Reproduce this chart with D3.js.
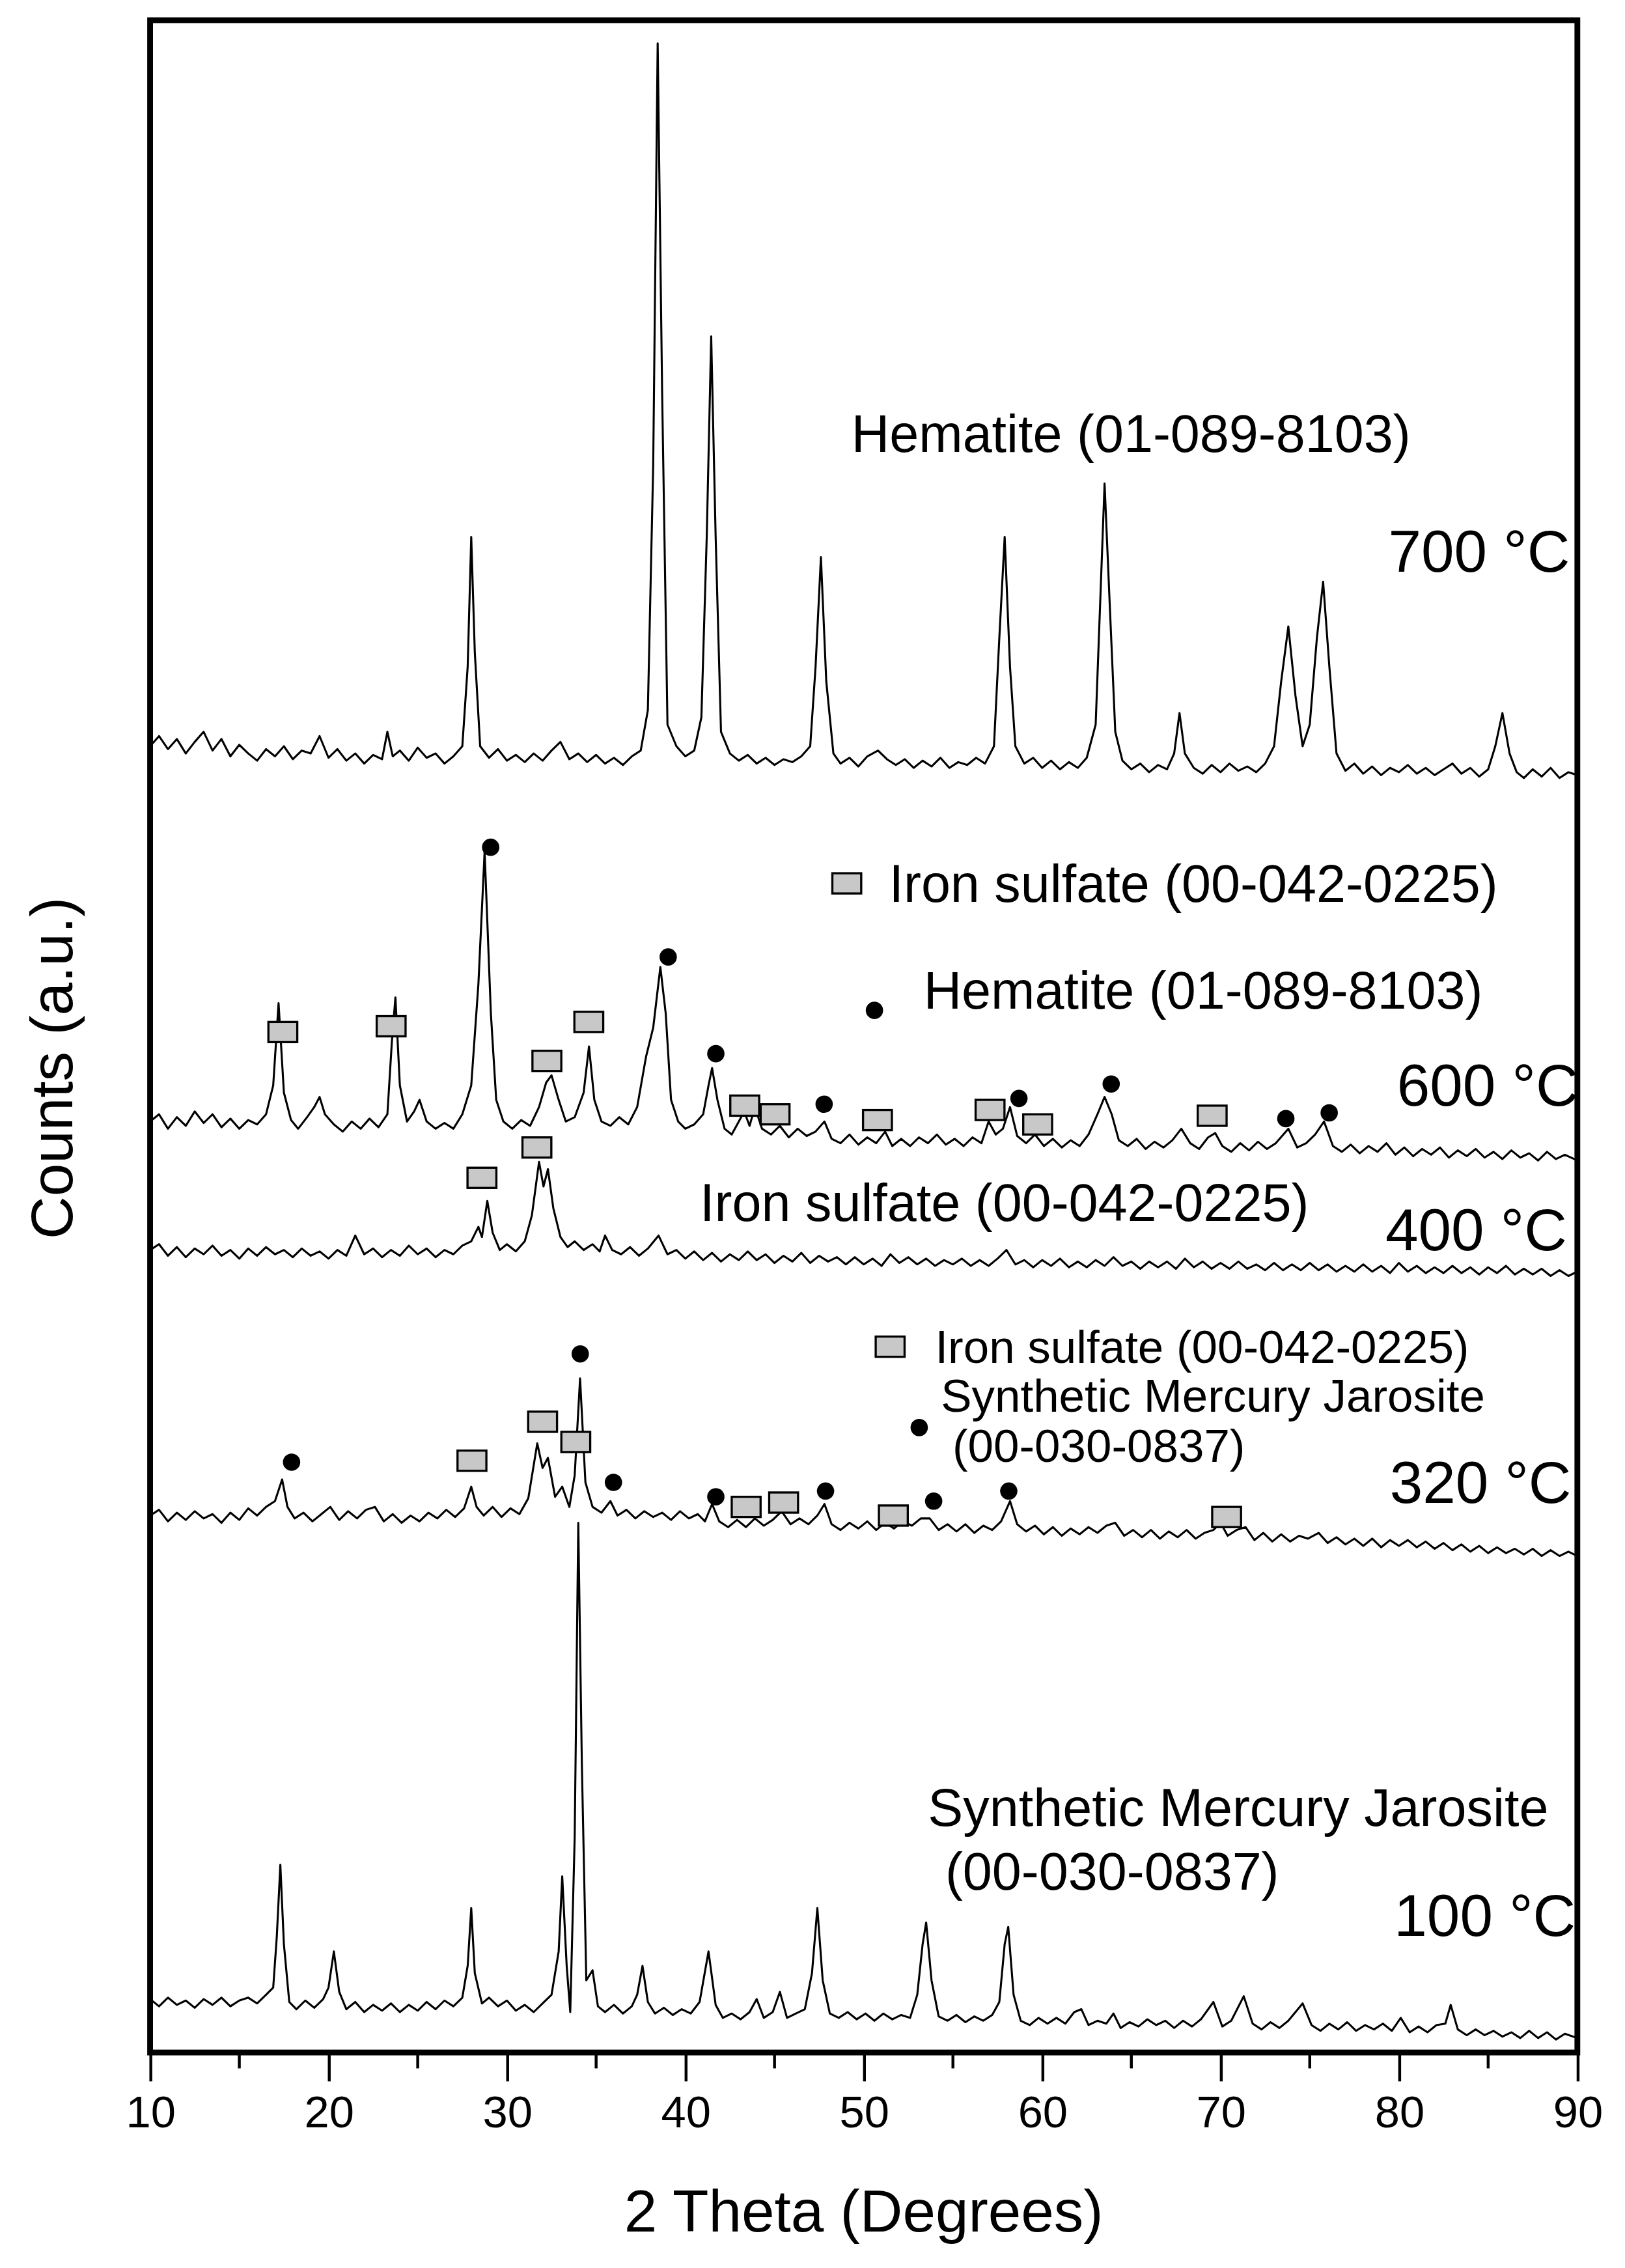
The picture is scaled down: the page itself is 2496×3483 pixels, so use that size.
<!DOCTYPE html>
<html><head><meta charset="utf-8">
<script src="https://cdn.jsdelivr.net/npm/d3@7"></script>
<style>body{margin:0;background:#fff}svg{display:block}text{font-family:"Liberation Sans",Arial,sans-serif;fill:#000}</style>
</head><body>
<svg id="c" width="2496" height="3483" viewBox="0 0 1126 1571.3"></svg>
<script>
const s700=[[10,905],[10.5,912],[11,903],[11.5,910],[12,900],[12.5,908],[13,915],[13.5,902],[14,910],[14.5,898],[15,906],[15.5,900],[16,895],[16.5,903],[17,898],[17.5,905],[18,896],[18.5,902],[19,900],[19.5,912],[20,897],[20.5,903],[21,895],[21.5,900],[22,893],[22.5,899],[23,896],[23.3,915],[23.6,898],[24,902],[24.5,895],[25,904],[25.5,897],[26,900],[26.5,893],[27,898],[27.5,905],[27.8,960],[28,1050],[28.2,970],[28.5,905],[29,897],[29.5,903],[30,895],[30.5,899],[31,894],[31.5,900],[32,895],[32.5,902],[33,908],[33.5,896],[34,900],[34.5,894],[35,899],[35.5,893],[36,897],[36.5,892],[37,898],[37.5,902],[37.9,930],[38.2,1100],[38.45,1392],[38.7,1150],[39,920],[39.5,905],[40,898],[40.5,902],[40.9,925],[41.2,1050],[41.45,1189],[41.7,1050],[42,915],[42.5,900],[43,895],[43.5,899],[44,893],[44.5,897],[45,892],[45.5,896],[46,894],[46.5,898],[47,905],[47.3,960],[47.6,1036],[47.9,950],[48.3,900],[48.7,893],[49.2,897],[49.7,891],[50.2,898],[50.8,902],[51.3,896],[51.8,892],[52.3,896],[52.8,890],[53.3,895],[53.8,891],[54.3,897],[54.8,890],[55.3,894],[55.8,892],[56.3,897],[56.8,893],[57.3,905],[57.6,980],[57.9,1050],[58.2,960],[58.5,905],[59,893],[59.5,897],[60,890],[60.5,895],[61,889],[61.5,894],[62,890],[62.5,897],[63,920],[63.3,1020],[63.5,1087],[63.8,1000],[64.1,915],[64.5,895],[65,889],[65.5,893],[66,887],[66.5,892],[67,889],[67.4,900],[67.7,928],[68,900],[68.5,890],[69,886],[69.5,892],[70,887],[70.5,893],[71,888],[71.5,891],[72,887],[72.5,893],[73,905],[73.4,950],[73.8,988],[74.2,940],[74.6,905],[75,920],[75.4,980],[75.75,1019],[76.1,960],[76.5,900],[77,888],[77.5,893],[78,886],[78.5,891],[79,885],[79.5,890],[80,887],[80.5,892],[81,886],[81.5,890],[82,885],[82.5,889],[83,893],[83.5,886],[84,890],[84.5,884],[85,889],[85.4,905],[85.8,928],[86.2,900],[86.6,887],[87,883],[87.5,889],[88,884],[88.5,890],[89,883],[89.5,887],[90,885]];
const s600=[[10,645],[10.5,650],[11,640],[11.5,648],[12,642],[12.5,652],[13,644],[13.5,650],[14,641],[14.5,647],[15,640],[15.5,646],[16,643],[16.5,650],[16.9,670],[17.2,727],[17.5,665],[17.9,646],[18.3,640],[18.8,648],[19.2,655],[19.5,662],[19.8,650],[20.3,643],[20.8,638],[21.3,645],[21.8,640],[22.3,647],[22.8,641],[23.3,650],[23.55,700],[23.75,731],[24,670],[24.4,645],[24.8,652],[25.1,660],[25.5,645],[26,640],[26.5,644],[27,640],[27.5,650],[28,670],[28.4,740],[28.75,832],[29.1,720],[29.4,660],[29.8,645],[30.3,640],[30.8,646],[31.3,642],[31.8,655],[32.2,672],[32.5,677],[32.9,660],[33.3,645],[33.8,648],[34.3,665],[34.6,697],[34.9,660],[35.3,645],[35.8,642],[36.3,648],[36.8,643],[37.3,655],[37.8,690],[38.2,710],[38.6,752],[38.9,720],[39.2,660],[39.6,645],[40,640],[40.5,643],[41,650],[41.3,670],[41.5,682],[41.8,660],[42.2,640],[42.6,636],[43,645],[43.3,652],[43.6,642],[43.9,655],[44.3,640],[44.8,636],[45.3,642],[45.8,634],[46.3,640],[46.8,635],[47.3,638],[47.8,645],[48.2,633],[48.7,630],[49.2,636],[49.7,629],[50.2,634],[50.7,630],[51.2,638],[51.6,628],[52.1,633],[52.6,628],[53.1,634],[53.6,630],[54.1,636],[54.6,629],[55.1,633],[55.6,628],[56.1,634],[56.6,630],[57,645],[57.4,636],[57.8,640],[58.2,655],[58.6,635],[59.1,630],[59.6,636],[60.1,628],[60.6,633],[61.1,627],[61.6,632],[62.1,628],[62.6,636],[63.1,650],[63.5,662],[63.9,650],[64.3,632],[64.8,628],[65.3,633],[65.8,626],[66.3,631],[66.8,627],[67.3,632],[67.8,640],[68.3,630],[68.8,626],[69.3,634],[69.7,637],[70.1,628],[70.6,624],[71.1,630],[71.6,625],[72.1,631],[72.6,626],[73.1,630],[73.8,640],[74.3,627],[74.8,630],[75.3,636],[75.8,645],[76.3,628],[76.8,624],[77.3,629],[77.8,623],[78.3,628],[78.8,624],[79.3,630],[79.8,622],[80.3,627],[80.8,621],[81.3,626],[81.8,622],[82.3,627],[82.8,620],[83.3,625],[83.8,621],[84.3,626],[84.8,620],[85.3,624],[85.8,619],[86.3,625],[86.8,620],[87.3,623],[87.8,618],[88.3,624],[88.8,619],[89.3,622],[90,618]];
const s400=[[10,556],[10.5,560],[11,552],[11.5,558],[12,551],[12.5,557],[13,553],[13.5,559],[14,552],[14.5,556],[15,550],[15.5,557],[16,552],[16.5,558],[17,553],[17.5,556],[18,551],[18.5,557],[19,552],[19.5,555],[20,550],[20.5,556],[21,552],[21.5,566],[22,553],[22.5,557],[23,551],[23.5,556],[24,552],[24.5,559],[25,553],[25.5,557],[26,551],[26.5,556],[27,553],[27.5,559],[28,562],[28.4,572],[28.6,565],[28.9,590],[29.2,568],[29.6,556],[30,560],[30.5,555],[31,562],[31.4,580],[31.8,617],[32.05,600],[32.3,612],[32.6,585],[33,565],[33.4,558],[33.8,562],[34.3,556],[34.8,560],[35.2,555],[35.5,566],[35.9,556],[36.4,553],[36.9,558],[37.4,552],[37.9,557],[38.5,566],[39,553],[39.5,556],[40,550],[40.5,555],[41,549],[41.5,554],[42,548],[42.5,553],[43,549],[43.5,555],[44,549],[44.5,553],[45,547],[45.5,552],[46,548],[46.5,554],[47,547],[47.5,552],[48,548],[48.5,551],[49,546],[49.5,551],[50,546],[50.5,550],[51,545],[51.5,553],[52,547],[52.5,551],[53,546],[53.5,550],[54,545],[54.5,549],[55,546],[55.5,550],[56,545],[56.5,549],[57,545],[57.5,550],[58,556],[58.5,546],[59,549],[59.5,544],[60,549],[60.5,545],[61,550],[61.5,544],[62,548],[62.5,544],[63,549],[63.5,545],[64,551],[64.5,545],[65,548],[65.5,543],[66,548],[66.5,544],[67,548],[67.5,543],[68,550],[68.5,544],[69,548],[69.5,543],[70,547],[70.5,543],[71,548],[71.5,543],[72,546],[72.5,542],[73,547],[73.5,542],[74,546],[74.5,542],[75,547],[75.5,542],[76,546],[76.5,541],[77,545],[77.5,541],[78,546],[78.5,541],[79,545],[79.5,540],[80,547],[80.5,541],[81,545],[81.5,540],[82,544],[82.5,540],[83,545],[83.5,540],[84,544],[84.5,539],[85,544],[85.5,540],[86,545],[86.5,539],[87,543],[87.5,539],[88,543],[88.5,538],[89,542],[89.5,538],[90,541]];
const s320=[[10,372],[10.5,376],[11,368],[11.5,374],[12,369],[12.5,375],[13,370],[13.5,373],[14,367],[14.5,374],[15,369],[15.5,377],[16,372],[16.5,378],[17,382],[17.4,397],[17.7,378],[18.1,370],[18.6,374],[19.1,368],[19.6,373],[20.1,378],[20.6,369],[21.1,375],[21.6,370],[22.1,376],[22.6,378],[23.1,368],[23.6,373],[24.1,367],[24.6,372],[25.1,368],[25.6,374],[26.1,370],[26.6,376],[27.1,371],[27.6,377],[28,392],[28.3,378],[28.7,372],[29.2,378],[29.7,371],[30.2,377],[30.7,373],[31.2,384],[31.7,422],[32,405],[32.3,412],[32.7,385],[33.1,392],[33.5,378],[33.8,400],[34.1,467],[34.4,395],[34.8,378],[35.3,374],[35.8,382],[36.2,372],[36.7,376],[37.2,370],[37.7,375],[38.2,371],[38.7,374],[39.2,369],[39.7,375],[40.2,370],[40.7,373],[41.1,368],[41.5,380],[41.9,368],[42.4,364],[42.9,369],[43.4,364],[43.9,370],[44.4,365],[44.9,369],[45.4,375],[45.9,366],[46.4,370],[46.9,366],[47.4,372],[47.8,380],[48.2,366],[48.7,362],[49.2,367],[49.7,363],[50.2,368],[50.7,362],[51.2,367],[51.7,363],[52.2,368],[52.7,365],[53.2,370],[53.7,370],[54.2,362],[54.7,366],[55.2,361],[55.7,366],[56.2,360],[56.7,365],[57.2,362],[57.7,368],[58.2,382],[58.6,366],[59.1,361],[59.6,365],[60.1,359],[60.6,364],[61.1,358],[61.6,363],[62.1,359],[62.6,364],[63.1,360],[63.6,365],[64.1,367],[64.6,358],[65.1,362],[65.6,357],[66.1,362],[66.6,356],[67.1,361],[67.6,357],[68.1,362],[68.6,356],[69.1,360],[69.6,362],[70,367],[70.4,358],[70.9,362],[71.4,364],[71.9,355],[72.4,360],[72.9,354],[73.4,359],[73.9,354],[74.4,358],[74.9,356],[75.5,360],[76,353],[76.5,357],[77,352],[77.5,356],[78,351],[78.5,356],[79,350],[79.5,355],[80,351],[80.5,355],[81,350],[81.5,354],[82,349],[82.5,353],[83,348],[83.5,352],[84,347],[84.5,351],[85,346],[85.5,350],[86,346],[86.5,349],[87,345],[87.5,349],[88,344],[88.5,348],[89,344],[89.5,347],[90,344]];
const s100=[[10,37],[10.5,32],[11,38],[11.5,33],[12,36],[12.5,31],[13,37],[13.5,33],[14,38],[14.5,32],[15,36],[15.5,38],[16,34],[16.5,40],[16.9,45],[17.1,80],[17.3,130],[17.5,75],[17.8,35],[18.2,30],[18.7,36],[19.2,31],[19.7,37],[20,45],[20.3,70],[20.6,42],[21,30],[21.5,35],[22,28],[22.5,33],[23,29],[23.5,34],[24,28],[24.5,33],[25,29],[25.5,35],[26,30],[26.5,36],[27,32],[27.5,38],[27.8,60],[28,100],[28.2,55],[28.6,34],[29,38],[29.5,32],[30,36],[30.5,29],[31,33],[31.5,28],[32,34],[32.5,40],[32.9,70],[33.1,122],[33.35,60],[33.55,28],[33.8,150],[34,367],[34.2,200],[34.45,50],[34.8,57],[35.1,32],[35.5,28],[36,33],[36.5,27],[37,32],[37.3,40],[37.6,60],[37.9,35],[38.3,27],[38.8,31],[39.3,26],[39.8,30],[40.3,27],[40.8,35],[41.3,70],[41.7,33],[42.1,24],[42.6,27],[43.1,23],[43.6,28],[44,37],[44.4,24],[44.9,28],[45.3,42],[45.7,24],[46.2,27],[46.7,30],[47.1,55],[47.4,100],[47.7,50],[48.1,27],[48.6,24],[49.1,28],[49.6,23],[50.1,27],[50.6,22],[51.1,27],[51.6,23],[52.1,26],[52.6,24],[53,40],[53.3,75],[53.5,90],[53.8,50],[54.2,25],[54.7,22],[55.2,26],[55.7,21],[56.2,25],[56.7,22],[57.2,26],[57.6,35],[57.9,75],[58.1,87],[58.4,40],[58.8,22],[59.3,19],[59.8,24],[60.3,20],[60.8,24],[61.3,20],[61.8,28],[62.2,30],[62.6,19],[63.1,22],[63.6,20],[64,27],[64.4,17],[64.9,21],[65.4,18],[65.9,23],[66.4,19],[66.9,22],[67.4,17],[67.9,22],[68.4,18],[68.9,23],[69.6,35],[70.1,18],[70.6,22],[71.3,39],[71.8,20],[72.3,16],[72.8,21],[73.3,17],[73.8,22],[74.6,34],[75.1,19],[75.6,15],[76.1,20],[76.6,16],[77.1,21],[77.6,15],[78.1,19],[78.6,16],[79.1,20],[79.6,15],[80.1,24],[80.6,14],[81.1,18],[81.6,14],[82.1,19],[82.6,20],[82.9,33],[83.3,16],[83.8,12],[84.3,16],[84.8,12],[85.3,15],[85.8,11],[86.3,14],[86.8,10],[87.3,15],[87.8,10],[88.3,14],[88.8,9],[89.3,13],[90,10]];
const sulfateMarks=[[17.44,707],[23.51,711],[32.24,687],[34.59,714],[43.33,656],[45.03,650],[50.77,646],[57.08,653],[59.75,643],[69.53,649],[28.6,606],[31.68,627],[28.04,410],[32.0,437],[33.86,423],[43.41,378],[45.51,381],[51.66,372],[70.34,371],[49.05,810],[51.48,489]];
const circleMarks=[[29.09,835],[39.04,759],[41.71,692],[47.78,657],[58.7,661],[63.87,671],[73.66,647],[76.09,651],[17.93,409],[34.11,484],[35.97,395],[41.71,385],[47.86,389],[53.92,382],[58.13,389],[50.6,722],[53.11,433]];
const xTicks=[10,20,30,40,50,60,70,80,90];
const labels=[
 {t:"Hematite (01-089-8103)",x:590,y:313,s:36.5},
 {t:"700 °C",x:962,y:396,s:41},
 {t:"Iron sulfate (00-042-0225)",x:616,y:625,s:36.5},
 {t:"Hematite (01-089-8103)",x:640,y:699,s:36.5},
 {t:"600 °C",x:968,y:766,s:41},
 {t:"Iron sulfate (00-042-0225)",x:485,y:846,s:36.5},
 {t:"400 °C",x:960,y:866,s:41},
 {t:"Iron sulfate (00-042-0225)",x:648,y:944,s:32},
 {t:"Synthetic Mercury Jarosite",x:652,y:978,s:32},
 {t:"(00-030-0837)",x:660,y:1013,s:32},
 {t:"320 °C",x:963,y:1041,s:41},
 {t:"Synthetic Mercury Jarosite",x:643,y:1265,s:36.5},
 {t:"(00-030-0837)",x:655,y:1309,s:36.5},
 {t:"100 °C",x:966,y:1341,s:41}];

const svg=d3.select("#c");
const L=104,R=1093,T=14,B=1422;
const x=d3.scaleLinear().domain([10,90]).range([L,R]);
const y=d3.scaleLinear().domain([0,1408]).range([B,T]);
const line=d3.line().x(d=>x(d[0])).y(d=>y(d[1]));
[s700,s600,s400,s320,s100].forEach(s=>svg.append("path").attr("d",line(s)).attr("fill","none").attr("stroke","#000").attr("stroke-width",1.4).attr("stroke-linejoin","round"));
svg.selectAll("rect.sq").data(sulfateMarks).join("rect").attr("class","sq")
 .attr("x",d=>x(d[0])-10).attr("y",d=>y(d[1])-7).attr("width",20).attr("height",14)
 .attr("fill","#c8c8c8").attr("stroke","#000").attr("stroke-width",1.5);
svg.selectAll("circle.cm").data(circleMarks).join("circle").attr("class","cm")
 .attr("cx",d=>x(d[0])).attr("cy",d=>y(d[1])).attr("r",6).attr("fill","#000");
svg.selectAll("text.lb").data(labels).join("text").attr("class","lb")
 .attr("x",d=>d.x).attr("y",d=>d.y).attr("font-size",d=>d.s).text(d=>d.t);
svg.append("rect").attr("x",L).attr("y",T).attr("width",R-L).attr("height",B-T).attr("fill","none").attr("stroke","#000").attr("stroke-width",4);
const ax=svg.append("g").attr("transform",`translate(0,${B})`)
 .call(d3.axisBottom(x).tickValues(xTicks).tickSize(20).tickPadding(10).tickFormat(d3.format("d")));
ax.select(".domain").remove();
ax.selectAll(".tick line").attr("stroke-width",2);
ax.selectAll("text").attr("font-size",31).attr("font-family","Liberation Sans, Arial");
const minor=d3.range(15,90,10);
svg.append("g").selectAll("line").data(minor).join("line")
 .attr("x1",d=>x(d)).attr("x2",d=>x(d)).attr("y1",B).attr("y2",B+11).attr("stroke","#000").attr("stroke-width",2);
svg.append("text").attr("x",(L+R)/2).attr("y",1546).attr("text-anchor","middle").attr("font-size",41).text("2 Theta (Degrees)");
svg.append("text").attr("transform","translate(50,740) rotate(-90)").attr("text-anchor","middle").attr("font-size",41).text("Counts (a.u.)");
</script></body></html>
